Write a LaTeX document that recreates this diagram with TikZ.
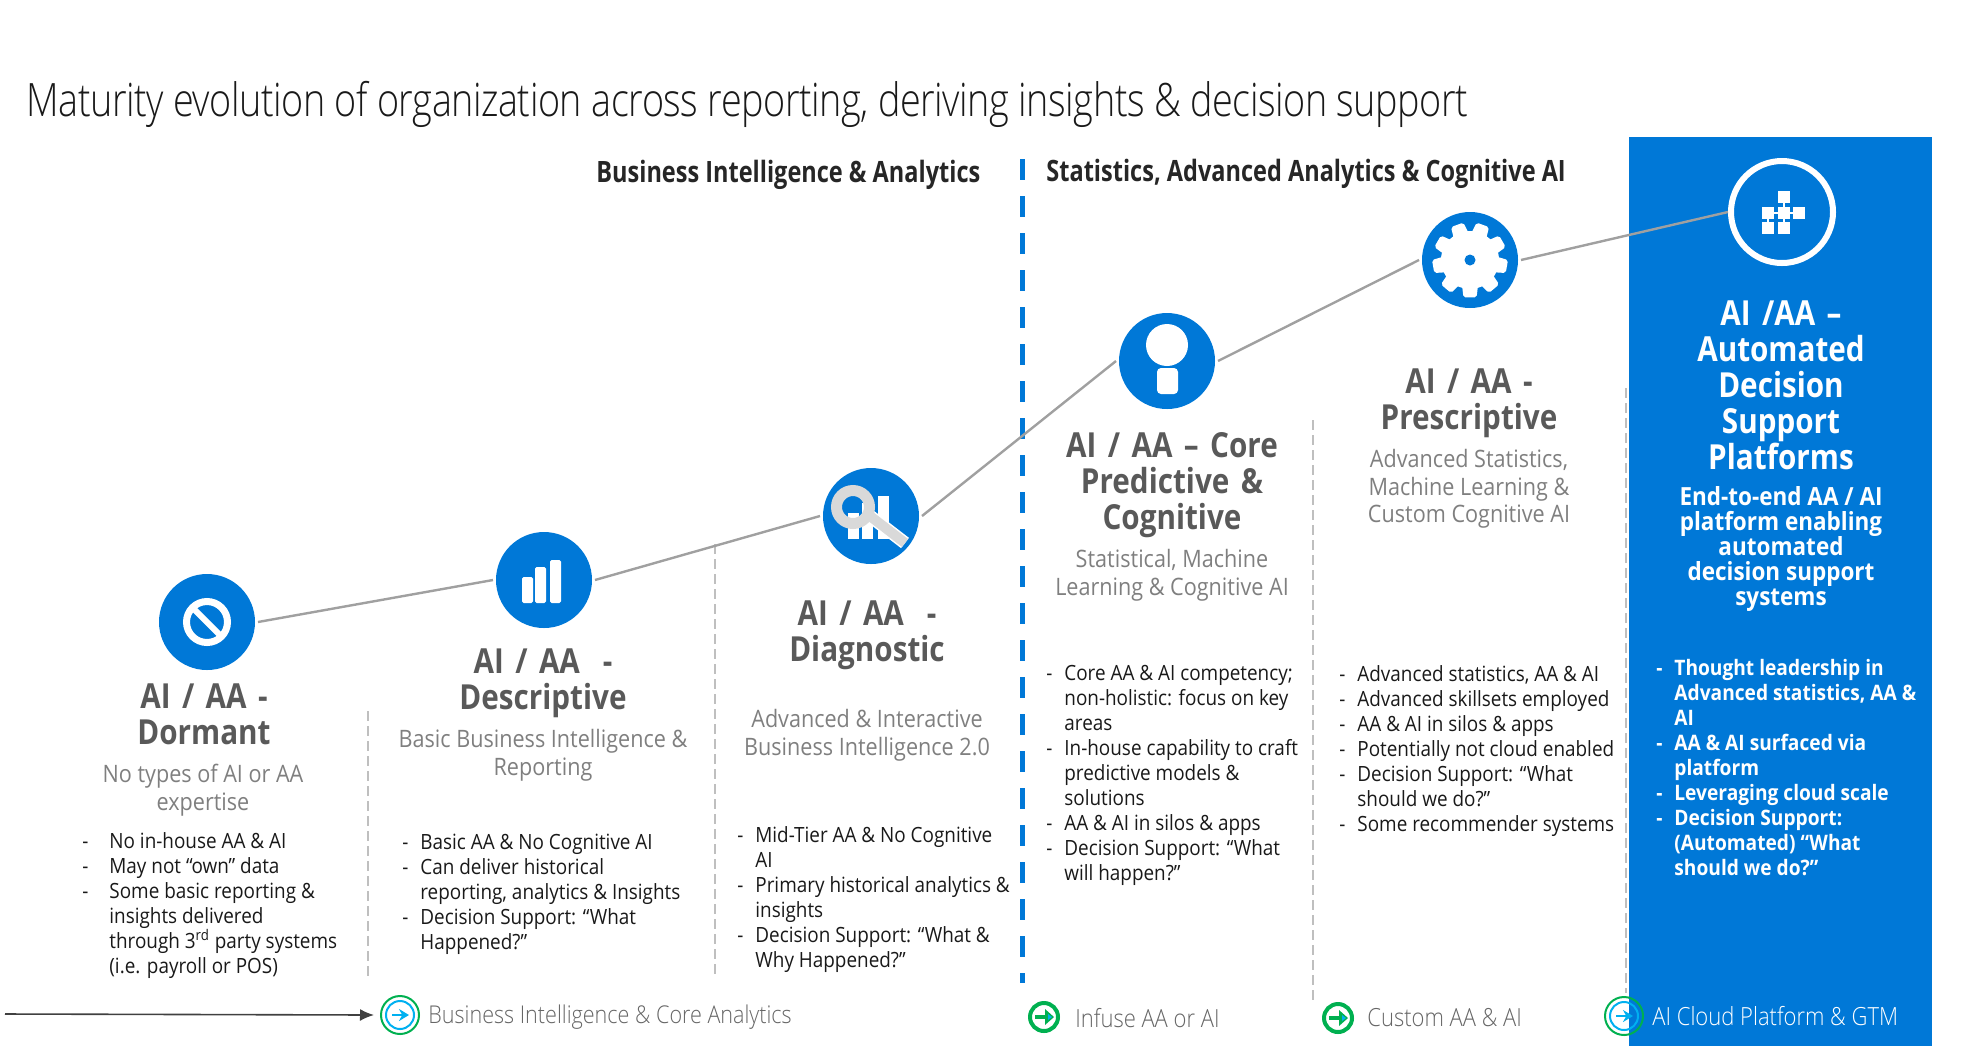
\documentclass[tikz,border=0pt]{standalone}
\usepackage{fontspec}
\usepackage{tikz}
\usetikzlibrary{arrows.meta}
\setmainfont{Open Sans}[FakeStretch=0.86]
\newfontfamily\titlefont{Open Sans Light}[FakeStretch=0.82,LetterSpace=-0.95]
\newfontfamily\thinfont{Open Sans Light}[FakeStretch=0.88]
\newfontfamily\widefont{Open Sans}[FakeStretch=0.9]
\newfontfamily\tightfont{Open Sans}[FakeStretch=0.8]
\definecolor{msblue}{HTML}{0078D7}
\definecolor{headgray}{HTML}{595959}
\definecolor{subgray}{HTML}{7F7F7F}
\definecolor{linegray}{HTML}{A0A0A0}
\definecolor{sepgray}{HTML}{BFBFBF}
\definecolor{ringgreen}{HTML}{00B050}
\definecolor{ringblue}{HTML}{00B0F0}
\definecolor{lensgray}{HTML}{D9D9D9}
\newlength{\stageindent}
\setlength{\stageindent}{9pt}
\newcommand{\dashline}[1]{\makebox[\stageindent][l]{-}#1}
\newcommand{\indline}[1]{\makebox[\stageindent][l]{}#1}
\newcommand{\headfont}{\fontsize{17.25}{18}\selectfont\bfseries\setlength{\spaceskip}{5.7pt}}
\tikzset{
  stagedot/.style={circle,fill=msblue,minimum size=48pt,inner sep=0pt,outer sep=1.5pt},
  stagehead/.style={align=center,text=headgray,inner sep=0pt,font=\headfont},
  stagesub/.style={align=center,text=subgray,inner sep=0pt,font=\widefont\fontsize{12}{13.85}\selectfont},
  stagelist/.style={align=left,anchor=north west,text=black!90,inner sep=0pt,font=\widefont\fontsize{10.5}{12.5}\selectfont},
  stageline/.style={draw=linegray,line width=1.2pt},
  sepline/.style={draw=sepgray,line width=0.9pt,dash pattern=on 5pt off 2.5pt},
  sectionhead/.style={anchor=west,text=black!85,inner sep=0pt,font=\tightfont\fontsize{14.7}{16}\selectfont\bfseries},
  steplabel/.style={anchor=west,inner sep=0pt,text=black!60,font=\thinfont\fontsize{12.5}{15}\selectfont}
}
\begin{document}
\begin{tikzpicture}[x=0.5pt,y=-0.5pt]
\useasboundingbox (0,0) rectangle (1976,1046);
\fill[msblue] (1629,137) rectangle (1932,1046);
% title row
\node[anchor=west,inner sep=0pt,text=black!90,font=\titlefont\fontsize{23}{25}\selectfont] (title) at (26,104) {Maturity evolution of organization across reporting, deriving insights \& decision support};
\node[sectionhead] (biheader) at (596,175) {Business Intelligence \& Analytics};
\node[sectionhead] (aiheader) at (1046,174) {Statistics, Advanced Analytics \& Cognitive AI};
% dashed separators
\draw[msblue,line width=2.5pt,dash pattern=on 10.5pt off 8pt] (1022.5,159) -- (1022.5,983);
\draw[sepline] (368,711) -- (368,979);
\draw[sepline] (715,544) -- (715,977);
\draw[sepline] (1313,420) -- (1313,1003);
\draw[sepline] (1626,388) -- (1626,993);
% stage circles
\node[stagedot] (dormant) at (207,622) {};
\node[stagedot] (descriptive) at (544,580) {};
\node[stagedot] (diagnostic) at (871,516) {};
\node[stagedot] (core) at (1167,361) {};
\node[stagedot] (prescriptive) at (1470,260) {};
\node[circle,draw=white,line width=3pt,minimum size=51pt,inner sep=0pt] (platform) at (1782,212) {};
\foreach \a/\b in {dormant/descriptive,descriptive/diagnostic,diagnostic/core,core/prescriptive,prescriptive/platform}
  \draw[stageline] (\a.east) -- (\b.west);
% dormant icon
\draw[white,line width=3.5pt] (207,622) circle (20.5);
\draw[white,line width=3pt] (193,608) -- (221,636);
% bars
\foreach \x/\t in {522/577,535/567,550/560}
  \fill[white,rounded corners=0.8pt] (\x,\t) rectangle (\x+11,603);
% lens over bars
\foreach \x/\t in {848/513,862/503,878/496}
  \fill[white] (\x,\t) rectangle (\x+11,539);
\draw[white,line width=6.5pt] (870,516) -- (905,543);
\draw[lensgray,line width=5pt] (870,516) -- (905,543);
\draw[lensgray,line width=5.5pt] (853,507) circle (16.5);
% person
\fill[white] (1167,345) circle (21);
\fill[white,rounded corners=2pt] (1157,368) rectangle (1178,394);
% gear
\begin{scope}[shift={(prescriptive.center)}]
\fill[white] (0,0) circle (29);
\foreach \a in {90,130,...,410}
  \fill[white,rounded corners=1pt] (\a-17:27) -- (\a-10:38) -- (\a+10:38) -- (\a+17:27) -- cycle;
\fill[msblue] (0,0) circle (5.5);
\end{scope}
% network
\foreach \x/\y in {1778/191,1762/207,1778/207,1793/207,1762/222,1778/222}
  \fill[white] (\x,\y) rectangle (\x+12,\y+12);
\draw[white,line width=0.7pt] (1784,191) -- (1784,234) (1768,213) -- (1805,213) (1768,207) -- (1768,234);
% headings
\node[stagehead] (dormanthead) at (204,714) {AI / AA -\\Dormant};
\node[stagehead] (descriptivehead) at (543,683) {AI / AA\ \ -\\Descriptive};
\node[stagehead] (diagnostichead) at (867,635) {AI / AA\ \ -\\Diagnostic};
\node[stagehead] (corehead) at (1172,485) {AI / AA -- Core\\Predictive \&\\Cognitive};
\node[stagehead] (prescriptivehead) at (1469,403) {AI / AA -\\Prescriptive};
\node[stagehead,text=white] (platformhead) at (1781,385) {AI /AA --\\Automated\\Decision\\Support\\Platforms};
% sub headings
\node[stagesub] (dormantsub) at (203,790) {No types of AI or AA\\expertise};
\node[stagesub] (descriptivesub) at (543,755) {Basic Business Intelligence \&\\Reporting};
\node[stagesub] (diagnosticsub) at (867,735) {Advanced \& Interactive\\Business Intelligence 2.0};
\node[stagesub] (coresub) at (1172,575) {Statistical, Machine\\Learning \& Cognitive AI};
\node[stagesub] (prescriptivesub) at (1469,489) {Advanced Statistics,\\Machine Learning \&\\Custom Cognitive AI};
\node[align=center,inner sep=0pt,text=white,font=\widefont\fontsize{12.5}{12.6}\selectfont\bfseries] (platformsub) at (1781,549) {End-to-end AA / AI\\platform enabling\\automated\\decision support\\systems};
% lists
\setlength{\stageindent}{13.5pt}
\node[stagelist] (dormantlist) at (82,832) {\dashline{No in-house AA \& AI}\\\dashline{May not “own” data}\\\dashline{Some basic reporting \&}\\\indline{insights delivered}\\\indline{through 3\textsuperscript{rd} party systems}\\\indline{(i.e. payroll or POS)}};
\setlength{\stageindent}{9pt}
\node[stagelist] (descriptivelist) at (402,834) {\dashline{Basic AA \& No Cognitive AI}\\\dashline{Can deliver historical}\\\indline{reporting, analytics \& Insights}\\\dashline{Decision Support: “What}\\\indline{Happened?”}};
\node[stagelist] (diagnosticlist) at (737,826) {\dashline{Mid-Tier AA \& No Cognitive}\\\indline{AI}\\\dashline{Primary historical analytics \&}\\\indline{insights}\\\dashline{Decision Support: “What \&}\\\indline{Why Happened?”}};
\node[stagelist] (corelist) at (1046,665) {\dashline{Core AA \& AI competency;}\\\indline{non-holistic: focus on key}\\\indline{areas}\\\dashline{In-house capability to craft}\\\indline{predictive models \&}\\\indline{solutions}\\\dashline{AA \& AI in silos \& apps}\\\dashline{Decision Support: “What}\\\indline{will happen?”}};
\node[stagelist] (prescriptivelist) at (1339,665) {\dashline{Advanced statistics, AA \& AI}\\\dashline{Advanced skillsets employed}\\\dashline{AA \& AI in silos \& apps}\\\dashline{Potentially not cloud enabled}\\\dashline{Decision Support: “What}\\\indline{should we do?”}\\\dashline{Some recommender systems}};
\node[stagelist,text=white,font=\widefont\fontsize{10.65}{12.5}\selectfont\bfseries] (platformlist) at (1656,659) {\dashline{Thought leadership in}\\\indline{Advanced statistics, AA \&}\\\indline{AI}\\\dashline{AA \& AI surfaced via}\\\indline{platform}\\\dashline{Leveraging cloud scale}\\\dashline{Decision Support:}\\\indline{(Automated) “What}\\\indline{should we do?”}};
% bottom row
\foreach \n/\x/\y in {bicore/400/1015,cloud/1624/1016}{
  \node[circle,draw=ringgreen,line width=1pt,minimum size=19pt,inner sep=0pt,outer sep=3.5pt] (\n) at (\x,\y) {};
  \draw[ringblue,line width=1pt] (\x,\y) circle (14);
  \draw[ringblue,line width=1pt,-{Stealth[length=5pt,width=6pt]}] (\x-8,\y) -- (\x+9,\y);
}
\foreach \n/\x/\y in {infuse/1044/1017,custom/1338/1018}{
  \node[circle,draw=ringgreen,line width=2pt,minimum size=14pt,inner sep=0pt] (\n) at (\x,\y) {};
  \draw[ringgreen,line width=2pt] (\x-9,\y) -- (\x+3,\y);
  \fill[ringgreen] (\x+1,\y-8) -- (\x+10,\y) -- (\x+1,\y+8) -- cycle;
  \fill[ringblue] (\x+4,\y-3) -- (\x+8,\y) -- (\x+4,\y+3) -- cycle;
}
\coordinate (arrowstart) at (5,1014);
\draw[black!75,line width=0.8pt,-{Latex[length=7pt,width=6pt]}] (arrowstart) -- (bicore.west);
\node[steplabel,font=\thinfont\fontsize{12.25}{15}\selectfont] (bicorelabel) at (428,1017) {Business Intelligence \& Core Analytics};
\node[steplabel] (infuselabel) at (1075,1018) {Infuse AA or AI};
\node[steplabel] (customlabel) at (1367,1018) {Custom AA \& AI};
\node[steplabel,text=white] (cloudlabel) at (1652,1016) {AI Cloud Platform \& GTM};
\end{tikzpicture}
\end{document}
